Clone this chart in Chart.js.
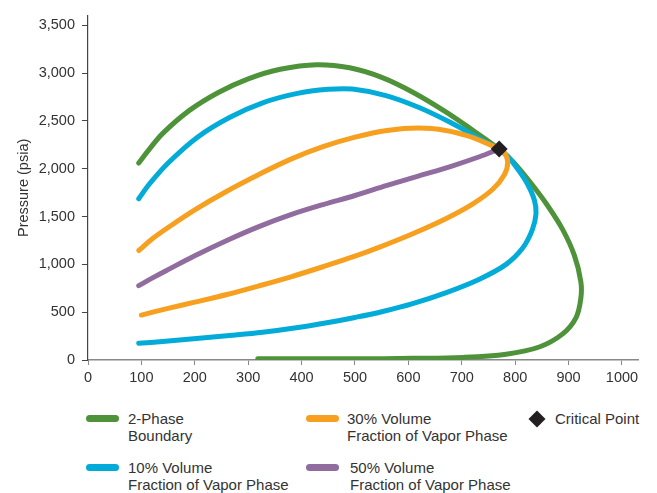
<!DOCTYPE html>
<html>
<head>
<meta charset="utf-8">
<script src="https://cdn.jsdelivr.net/npm/chart.js@4"></script>
<style>
  body { margin: 0; background: #fff; font-family: "Liberation Sans", Arial, sans-serif; color: #333; }
  #wrap { position: relative; width: 657px; height: 493px; }
  #chartBox { position: absolute; left: 0; top: 0; width: 657px; height: 395px; }
  .sw { position: absolute; height: 7px; width: 33px; border-radius: 4px; }
  .lbl { position: absolute; font-size: 15px; line-height: 17px; white-space: nowrap; }
  .dia { position: absolute; width: 12px; height: 12px; background: #231f20; transform: rotate(45deg); }
</style>
</head>
<body>
<div id="wrap">
  <div id="chartBox"><canvas id="phaseChart" width="657" height="395"></canvas></div>

  <!-- leyenda hecha a mano (dos líneas por entrada) -->
  <div class="sw" style="left:86px; top:415px; background:#4e9339;"></div>
  <div class="lbl" style="left:128px; top:410px;">2-Phase<br>Boundary</div>
  <div class="sw" style="left:306px; top:415px; background:#f7a01f;"></div>
  <div class="lbl" style="left:347px; top:410px;">30% Volume<br>Fraction of Vapor Phase</div>
  <div class="dia" style="left:531px; top:413px;"></div>
  <div class="lbl" style="left:555px; top:410px;">Critical Point</div>

  <div class="sw" style="left:86px; top:464px; background:#03acd8;"></div>
  <div class="lbl" style="left:128px; top:459px;">10% Volume<br>Fraction of Vapor Phase</div>
  <div class="sw" style="left:306px; top:464px; background:#906c9f;"></div>
  <div class="lbl" style="left:350px; top:459px;">50% Volume<br>Fraction of Vapor Phase</div>
</div>

<script>
// ==========================================
// DATOS (temperatura en x, presión psia en y)
// ==========================================
const boundaryX = [95, 115, 140, 190, 245, 300, 360, 428, 490, 550, 610, 670, 720, 770, 795, 826, 858, 889, 911, 923, 923, 914, 889, 845, 783, 702, 608, 500, 400, 318];
const boundaryY = [2060, 2205, 2370, 2610, 2800, 2940, 3040, 3088, 3055, 2955, 2795, 2595, 2405, 2205, 2079, 1874, 1636, 1363, 1091, 818, 647, 443, 273, 136, 61, 27, 17, 13, 12, 12];

const vap10X = [95, 140, 203, 265, 327, 390, 450, 500, 550, 608, 671, 733, 783, 814, 832, 839, 836, 823, 805, 786, 770, 738, 680, 620, 558, 495, 450, 390, 327, 265, 205, 150, 115, 95];
const vap10Y = [174, 194, 225, 256, 290, 337, 392, 445, 505, 590, 705, 845, 1000, 1170, 1360, 1530, 1670, 1840, 1994, 2130, 2205, 2300, 2480, 2640, 2765, 2833, 2830, 2785, 2689, 2536, 2330, 2060, 1840, 1687];

const vap30X = [95, 120, 150, 200, 260, 320, 380, 440, 500, 560, 620, 670, 710, 745, 770, 780, 786, 780, 758, 720, 671, 608, 546, 500, 440, 380, 320, 260, 200, 150, 100];
const vap30Y = [1145, 1265, 1385, 1570, 1765, 1940, 2100, 2230, 2330, 2400, 2425, 2400, 2345, 2270, 2205, 2165, 2070, 1940, 1785, 1630, 1480, 1320, 1180, 1085, 975, 870, 775, 685, 605, 540, 470];

const vap50X = [95, 120, 150, 200, 260, 320, 380, 440, 500, 560, 620, 680, 733, 770];
const vap50Y = [777, 856, 945, 1090, 1250, 1395, 1520, 1625, 1720, 1825, 1925, 2025, 2125, 2205];

const criticalX = [770];
const criticalY = [2205];

const xTickValues = [0, 100, 200, 300, 400, 500, 600, 700, 800, 900, 1000];
const yTickValues = [0, 500, 1000, 1500, 2000, 2500, 3000, 3500];

// junta x e y en puntos {x, y}
function toPoints(xs, ys) {
    return xs.map((x, i) => ({ x: x, y: ys[i] }));
}

function curve(label, xs, ys, color, order) {
    return {
        label: label,
        data: toPoints(xs, ys),
        showLine: true,
        borderColor: color,
        backgroundColor: color,
        borderWidth: 5,
        borderCapStyle: 'round',
        borderJoinStyle: 'round',
        pointRadius: 0,
        tension: 0.35,
        order: order
    };
}

const tickFont = { family: 'Liberation Sans', size: 14.5 };

const ctx = document.getElementById('phaseChart').getContext('2d');
new Chart(ctx, {
    type: 'scatter',
    data: {
        datasets: [
            {
                label: 'Critical Point',
                data: toPoints(criticalX, criticalY),
                pointStyle: 'rectRot',
                pointRadius: 8.5,
                pointBackgroundColor: '#231f20',
                pointBorderWidth: 0,
                order: 0
            },
            curve('50% Volume Fraction of Vapor Phase', vap50X, vap50Y, '#906c9f', 1),
            curve('30% Volume Fraction of Vapor Phase', vap30X, vap30Y, '#f7a01f', 2),
            curve('10% Volume Fraction of Vapor Phase', vap10X, vap10Y, '#03acd8', 3),
            curve('2-Phase Boundary', boundaryX, boundaryY, '#4e9339', 4)
        ]
    },
    options: {
        responsive: false,
        animation: false,
        maintainAspectRatio: false,
        layout: { padding: { left: 0, right: 19, top: 8, bottom: 0 } },
        plugins: { legend: { display: false }, tooltip: { enabled: false } },
        scales: {
            x: {
                type: 'linear',
                min: 0,
                max: 1030,
                afterBuildTicks: (scale) => { scale.ticks = xTickValues.map(v => ({ value: v })); },
                afterFit: (scale) => { scale.height = 35; },
                grid: { drawOnChartArea: false, drawTicks: true, tickLength: 5, color: '#888', tickWidth: 1 },
                border: { display: true, color: '#888', width: 1.5 },
                ticks: {
                    padding: 4,
                    maxRotation: 0,
                    minRotation: 0,
                    autoSkip: false,
                    color: '#333',
                    font: tickFont,
                    callback: (v) => String(v)
                }
            },
            y: {
                type: 'linear',
                min: 0,
                max: 3600,
                afterBuildTicks: (scale) => { scale.ticks = yTickValues.map(v => ({ value: v })); },
                afterFit: (scale) => { scale.width = 88; },
                grid: { drawOnChartArea: false, drawTicks: true, tickLength: 6, color: '#444', tickWidth: 1 },
                border: { display: true, color: '#444', width: 1.2 },
                ticks: {
                    padding: 7,
                    autoSkip: false,
                    color: '#333',
                    font: tickFont,
                    callback: (v) => v.toLocaleString('en-US')
                },
                title: {
                    display: true,
                    text: 'Pressure (psia)',
                    color: '#333',
                    font: tickFont,
                    padding: { top: 15, bottom: 0 }
                }
            }
        }
    }
});
</script>
</body>
</html>
